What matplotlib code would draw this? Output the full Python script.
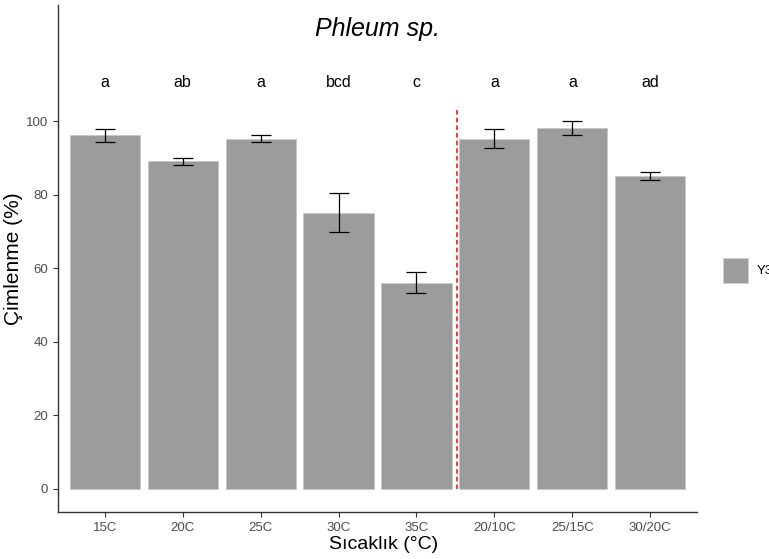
import matplotlib.pyplot as plt
import numpy as np

plt.rcParams['font.family'] = ['Liberation Sans', 'DejaVu Sans']

# sıcaklık grupları ve çimlenme oranları
categories = ['15C', '20C', '25C', '30C', '35C', '20/10C', '25/15C', '30/20C']
germination = [96.1, 89.1, 95.2, 75.1, 56.0, 95.2, 98.2, 85.0]
std_err = [1.7, 1.0, 1.0, 5.4, 2.85, 2.55, 1.95, 1.05]
letters = ['a', 'ab', 'a', 'bcd', 'c', 'a', 'a', 'ad']

x = np.arange(len(categories))

fig = plt.figure(figsize=(7.69, 5.59), dpi=100)
ax = fig.add_axes([0.0754, 0.084, 0.8310, 0.907])

ax.bar(x, germination, width=0.9, color='#9c9c9c', edgecolor='#c8c8c8', linewidth=0.6, zorder=2)
ax.errorbar(x, germination, yerr=std_err, fmt='none', ecolor='black', elinewidth=0.9,
            capsize=7, capthick=0.9, zorder=3)

# harf grupları
for xi, lab in zip(x, letters):
    ax.text(xi, 110.5, lab, ha='center', va='center', fontsize=11.5, color='black')

# sabit / değişken sıcaklık ayrımı
ax.plot([4.52, 4.52], [0, 103], color='#ff0000', linestyle=(0, (3, 2)), linewidth=1.1, zorder=4)

ax.text(3.5, 125, 'Phleum sp.', ha='center', va='center', fontsize=18, style='italic')

ax.set_xlim(-0.6, 7.6)
ax.set_ylim(-6.4, 131.6)
ax.set_xticks(x)
ax.set_xticklabels(categories)
ax.set_yticks([0, 20, 40, 60, 80, 100])

for side in ['top', 'right']:
    ax.spines[side].set_visible(False)
for side in ['left', 'bottom']:
    ax.spines[side].set_color('#333333')
    ax.spines[side].set_linewidth(1.0)

ax.tick_params(axis='both', colors='#333333', labelcolor='#4d4d4d', labelsize=9.5, length=3.5, width=0.8)

ax.set_xlabel('Sıcaklık (°C)', fontsize=14, labelpad=0)
ax.xaxis.set_label_coords(0.51, -0.047)
ax.set_ylabel('Çimlenme (%)', fontsize=15, labelpad=2)

# lejant
fig.patches.append(plt.Rectangle((723 / 769, 1 - 283 / 559), 25 / 769, 25 / 559,
                                 transform=fig.transFigure, facecolor='#9c9c9c',
                                 edgecolor='#d0d0d0', linewidth=0.6))
fig.text(757 / 769, 1 - 271 / 559, 'Y3', ha='left', va='center', fontsize=9.5, color='black')

fig.savefig('out.png', dpi=100)
